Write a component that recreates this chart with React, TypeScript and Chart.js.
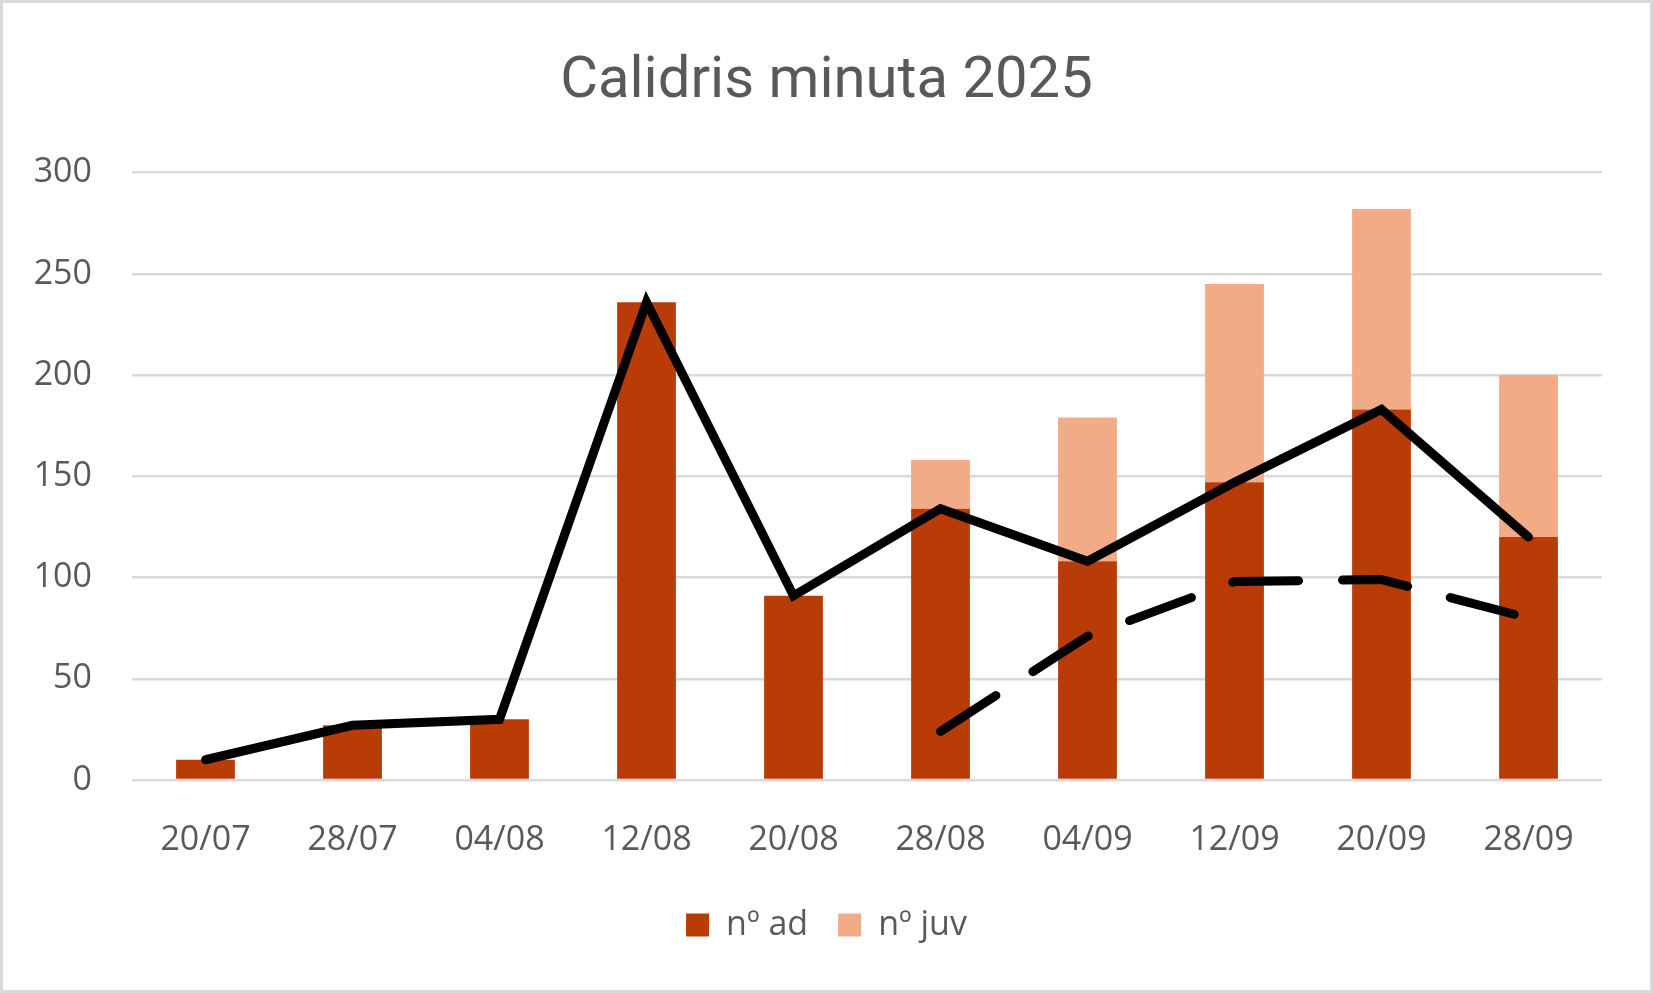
import { useEffect, useRef } from 'react';
import { Chart, registerables } from 'chart.js';

Chart.register(...registerables);

const dates = ['20/07', '28/07', '04/08', '12/08', '20/08', '28/08', '04/09', '12/09', '20/09', '28/09'];
const adults = [10, 27, 30, 236, 91, 134, 108, 147, 183, 120];
const juveniles = [null, null, null, null, null, 24, 71, 98, 99, 80];

const TEXT = '#595959';
const GRID = '#d9d9d9';
const AD = '#b93c07';
const JUV = '#f1ab86';

export default function App() {
  const ref = useRef<HTMLCanvasElement | null>(null);

  useEffect(() => {
    if (!ref.current) return;
    const chart = new Chart(ref.current, {
      type: 'bar',
      data: {
        labels: dates,
        datasets: [
          {
            type: 'line' as const,
            label: 'ad line',
            data: adults,
            borderColor: '#000',
            borderWidth: 9,
            borderCapStyle: 'round',
            borderJoinStyle: 'miter',
            pointRadius: 0,
            tension: 0,
            stack: 'l1',
            order: 1
          },
          {
            type: 'line' as const,
            label: 'juv line',
            data: juveniles,
            borderColor: '#000',
            borderWidth: 9,
            borderDash: [66, 44],
            borderCapStyle: 'round',
            borderJoinStyle: 'round',
            pointRadius: 0,
            tension: 0,
            stack: 'l2',
            order: 1
          },
          {
            label: 'nº ad',
            data: adults,
            backgroundColor: AD,
            stack: 'bars',
            order: 2,
            barPercentage: 0.4,
            categoryPercentage: 1
          },
          {
            label: 'nº juv',
            data: juveniles,
            backgroundColor: JUV,
            stack: 'bars',
            order: 2,
            barPercentage: 0.4,
            categoryPercentage: 1
          }
        ] as never
      },
      options: {
        responsive: true,
        maintainAspectRatio: false,
        animation: false,
        layout: { padding: { left: 0, right: 0, top: 0, bottom: 38 } },
        plugins: {
          tooltip: { enabled: false },
          title: {
            display: true,
            text: 'Calidris minuta 2025',
            color: TEXT,
            font: { family: 'Roboto', size: 58, weight: 'normal' },
            padding: { top: 45, bottom: 55 }
          },
          legend: {
            position: 'bottom',
            labels: {
              color: TEXT,
              font: { family: "'Open Sans'", size: 34 },
              boxWidth: 23,
              boxHeight: 23,
              padding: 30,
              filter: (item) => item.text.startsWith('nº')
            }
          }
        },
        scales: {
          x: {
            stacked: true,
            grid: { display: false },
            border: { display: false },
            ticks: {
              color: TEXT,
              font: { family: "'Open Sans'", size: 34 },
              padding: 32,
              maxRotation: 0,
              autoSkip: false
            },
            afterFit: (s) => {
              s.height = 98;
            }
          },
          y: {
            stacked: true,
            min: 0,
            max: 300,
            grid: { color: GRID, lineWidth: 2.5, drawTicks: false },
            border: { display: false },
            ticks: {
              stepSize: 50,
              color: TEXT,
              font: { family: "'Open Sans'", size: 34 },
              padding: 40
            },
            afterFit: (s) => {
              s.width = 129;
            }
          },
          yRight: {
            position: 'right',
            display: true,
            grid: { display: false },
            border: { display: false },
            ticks: { display: false },
            afterFit: (s) => {
              s.width = 48;
            }
          }
        }
      }
    });
    return () => chart.destroy();
  }, []);

  return (
    <div
      style={{
        position: 'absolute',
        left: 0,
        top: 0,
        width: 1653,
        height: 993,
        boxSizing: 'border-box',
        border: `3px solid ${GRID}`,
        background: '#fff'
      }}
    >
      <div style={{ position: 'relative', width: 1647, height: 987 }}>
        <canvas ref={ref} />
      </div>
    </div>
  );
}
